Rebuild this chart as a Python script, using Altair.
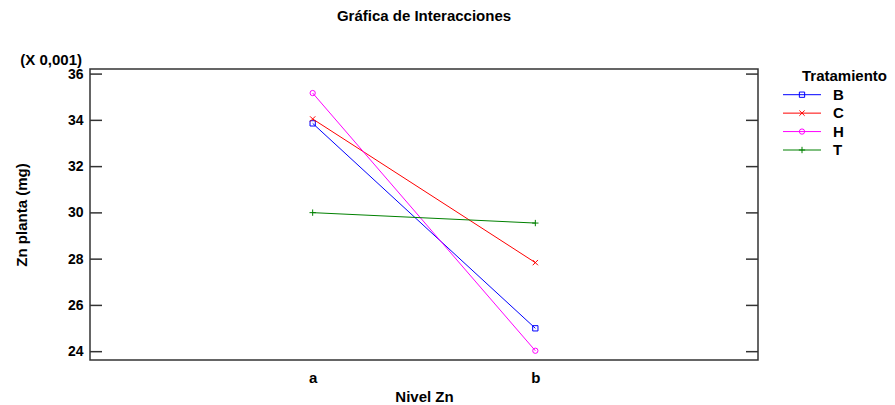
import altair as alt
import pandas as pd

niveles = ["a", "b"]
tratamientos = ["B", "C", "H", "T"]
valores_B = [33.87, 25.01]
valores_C = [34.06, 27.85]
valores_H = [35.18, 24.04]
valores_T = [30.01, 29.56]
colores = ["#0000FF", "#FF0000", "#FF00FF", "#008000"]
formas = ["M-1,-1L1,-1L1,1L-1,1Z", "M-1,-1L1,1M-1,1L1,-1", "circle", "M-1.2,0L1.2,0M0,-1.2L0,1.2"]
y_ticks = [24, 26, 28, 30, 32, 34, 36]
y_domain = [23.64, 36.22]
titulo = "Gráfica de Interacciones"
escala_txt = "(X 0,001)"
leyenda_titulo = "Tratamiento"

series = {"B": valores_B, "C": valores_C, "H": valores_H, "T": valores_T}
rows = []
for t in tratamientos:
    for n, v in zip(niveles, series[t]):
        rows.append({"Tratamiento": t, "Nivel": n, "valor": v})
df = pd.DataFrame(rows)
df_ticks = pd.DataFrame({"valor": y_ticks})
df_cat = pd.DataFrame({"Tratamiento": tratamientos})
df_one = pd.DataFrame({"k": [0]})

FONT = "Liberation Sans"
FS = 15
color = alt.Color("Tratamiento:N", scale=alt.Scale(domain=tratamientos, range=colores), legend=None)
shape = alt.Shape("Tratamiento:N", scale=alt.Scale(domain=tratamientos, range=formas), legend=None)
x = alt.X("Nivel:N", sort=niveles, scale=alt.Scale(type="point", padding=1.083),
          axis=alt.Axis(title="Nivel Zn", labelAngle=0, ticks=False, tickSize=0, domain=False, grid=False,
                        labelPadding=10, titlePadding=4, labelFontSize=FS, labelFontWeight="bold",
                        titleFontSize=FS, titleFontWeight="bold", labelColor="black", titleColor="black",
                        labelFont=FONT, titleFont=FONT))
y = alt.Y("valor:Q", scale=alt.Scale(domain=y_domain, nice=False, zero=False),
          axis=alt.Axis(values=y_ticks, ticks=False, tickSize=0, domain=False, grid=False,
                        labelPadding=7, title="Zn planta (mg)", titlePadding=38,
                        labelFontSize=14, labelFontWeight="bold", titleFontSize=FS, titleFontWeight="bold",
                        labelColor="black", titleColor="black", labelFont=FONT, titleFont=FONT))

lines = alt.Chart(df).mark_line(strokeWidth=1).encode(x=x, y=y, color=color)
points = alt.Chart(df).mark_point(filled=False, size=28, strokeWidth=1, opacity=1).encode(x=x, y=y, color=color, shape=shape)
ticks_l = alt.Chart(df_ticks).mark_rule(color="#333333", strokeWidth=1.5).encode(y=y, x=alt.value(0), x2=alt.value(12))
ticks_r = alt.Chart(df_ticks).mark_rule(color="#333333", strokeWidth=1.5).encode(y=y, x=alt.value(656), x2=alt.value(668))
escala = alt.Chart(df_one).mark_text(align="right", baseline="middle", fontSize=FS, fontWeight="bold",
                                     color="black", font=FONT).encode(
    x=alt.value(-8), y=alt.value(-9), text=alt.value(escala_txt))

inner = alt.layer(lines, points, ticks_l, ticks_r, escala)

ly = alt.Y("Tratamiento:N", scale=alt.Scale(type="point", domain=tratamientos, range=[25.7, 81], padding=0), axis=None)
leg_rule = alt.Chart(df_cat).mark_rule(strokeWidth=1).encode(y=ly, x=alt.value(693), x2=alt.value(731), color=color)
leg_pt = alt.Chart(df_cat).mark_point(filled=False, size=28, strokeWidth=1, opacity=1).encode(
    y=ly, x=alt.value(712), color=color, shape=shape)
leg_txt = alt.Chart(df_cat).mark_text(align="left", baseline="middle", fontSize=FS, fontWeight="bold",
                                      color="black", font=FONT).encode(y=ly, x=alt.value(743), text="Tratamiento:N")
leg_title = alt.Chart(df_one).mark_text(align="left", baseline="middle", fontSize=FS, fontWeight="bold",
                                        color="black", font=FONT).encode(
    x=alt.value(712), y=alt.value(7), text=alt.value(leyenda_titulo))

chart = alt.layer(inner, leg_rule, leg_pt, leg_txt, leg_title).resolve_scale(y="independent").properties(
    width=668, height=291,
    autosize=alt.AutoSizeParams(type="none"),
    padding={"left": 90, "top": 69, "right": 137, "bottom": 45},
    title=alt.Title(titulo, fontSize=FS, fontWeight="bold", offset=22, anchor="middle", color="black",
                    font=FONT, baseline="middle"),
).configure(font=FONT).configure_view(stroke="#333333", strokeWidth=1.5)

chart.save("out.html", embed_options={"renderer": "svg", "actions": False})
